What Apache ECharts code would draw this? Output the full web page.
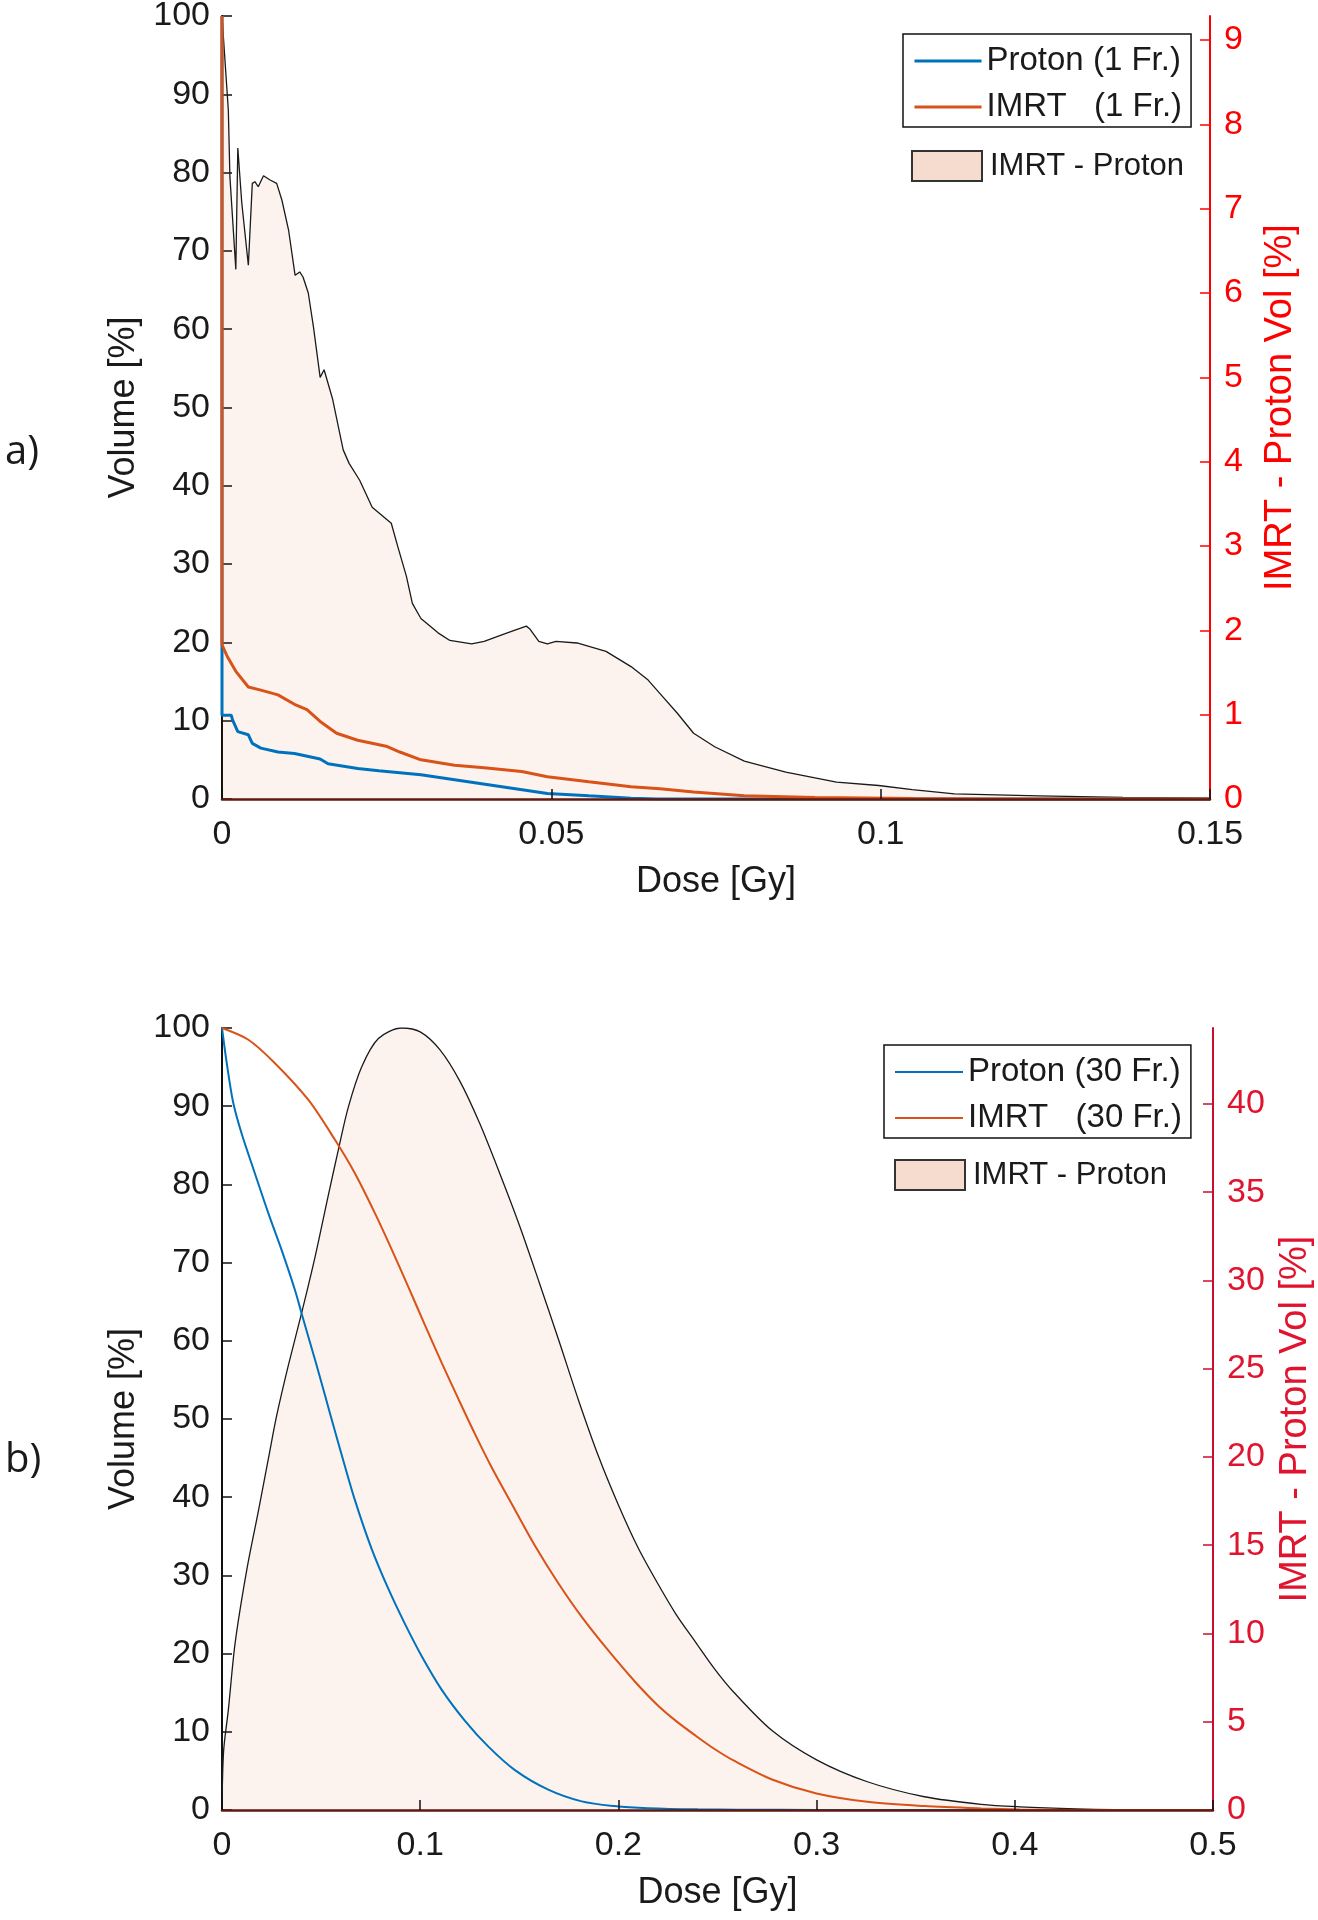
<!DOCTYPE html>
<html>
<head>
<meta charset="utf-8">
<script src="https://cdn.jsdelivr.net/npm/echarts@6/dist/echarts.min.js"></script>
<style>html,body{margin:0;padding:0;background:#fff;}#chart{width:1318px;height:1920px;}</style>
</head>
<body>
<div id="chart"></div>
<script>
// ---------- Panel a (1 fraction) ----------
const xTicksA = [0, 0.05, 0.1, 0.15];
const rightTicksA = [0, 1, 2, 3, 4, 5, 6, 7, 8, 9];
const protonA = [[0,100],[0,10.7],[0.0014,10.7],[0.0016,10.1],[0.0024,8.6],[0.0040,8.2],[0.0046,7.1],[0.0059,6.5],[0.0085,6.0],[0.0110,5.8],[0.0149,5.1],[0.0161,4.5],[0.0206,3.9],[0.0238,3.6],[0.0302,3.1],[0.0366,2.3],[0.0430,1.5],[0.0494,0.7],[0.0557,0.4],[0.0621,0.1],[0.066,0],[0.15,0]];
const imrtA = [[0,100],[0,19.7],[0.0008,18.2],[0.0021,16.3],[0.0040,14.3],[0.0059,13.9],[0.0085,13.3],[0.0110,12.1],[0.0129,11.4],[0.0149,9.9],[0.0174,8.4],[0.0206,7.5],[0.0251,6.7],[0.0270,6.0],[0.0302,5.0],[0.0353,4.3],[0.0398,4.0],[0.0455,3.5],[0.0494,2.85],[0.0557,2.2],[0.0621,1.57],[0.0665,1.3],[0.0716,0.9],[0.0793,0.4],[0.090,0.2],[0.105,0.05],[0.115,0],[0.15,0]];
// IMRT - Proton difference, right-axis units
const diffA = [[0,9.285],[0.00096,8.17],[0.0012,7.38],[0.0021,6.28],[0.0024,7.72],[0.0030,7.07],[0.0040,6.33],[0.0046,7.30],[0.0050,7.32],[0.0055,7.26],[0.0063,7.39],[0.0073,7.34],[0.0083,7.30],[0.0091,7.10],[0.0101,6.75],[0.0111,6.21],[0.0118,6.25],[0.0123,6.19],[0.0131,6.00],[0.0139,5.59],[0.0149,5.00],[0.0155,5.09],[0.0168,4.74],[0.0184,4.14],[0.0193,3.98],[0.0209,3.78],[0.0228,3.46],[0.0257,3.27],[0.0267,2.99],[0.0280,2.64],[0.0289,2.32],[0.0302,2.14],[0.0328,1.97],[0.0346,1.88],[0.0379,1.84],[0.0398,1.87],[0.0430,1.96],[0.0462,2.05],[0.0467,2.02],[0.0481,1.87],[0.0494,1.84],[0.0507,1.87],[0.0539,1.85],[0.0583,1.75],[0.0621,1.57],[0.0647,1.41],[0.0665,1.25],[0.0691,1.02],[0.0716,0.78],[0.0748,0.62],[0.0793,0.45],[0.0856,0.32],[0.0933,0.20],[0.0997,0.16],[0.1048,0.11],[0.1112,0.06],[0.124,0.037],[0.1368,0.019],[0.15,0.009]];

// ---------- Panel b (30 fractions) ----------
const xTicksB = [0, 0.1, 0.2, 0.3, 0.4, 0.5];
const rightTicksB = [0, 5, 10, 15, 20, 25, 30, 35, 40];
const protonB = [[0,100],[0.0024,95.5],[0.0057,90.4],[0.0099,86.5],[0.0166,81.4],[0.0234,76.3],[0.0301,71.6],[0.0368,66.5],[0.0405,63.2],[0.0469,57.6],[0.052,53.0],[0.0545,50.7],[0.0604,45.4],[0.0671,39.6],[0.0755,33.4],[0.0839,28.3],[0.0923,23.8],[0.1007,19.7],[0.1108,15.4],[0.1226,11.4],[0.1344,8.1],[0.1478,5.1],[0.1646,2.6],[0.1815,1.1],[0.198,0.5],[0.215,0.22],[0.24,0.08],[0.28,0.02],[0.32,0],[0.5,0]];
const imrtB = [[0,100],[0.0133,98.5],[0.0267,95.5],[0.0436,90.8],[0.057,85.7],[0.0671,81.4],[0.0772,76.3],[0.0856,71.7],[0.094,66.9],[0.1024,62.0],[0.1108,57.2],[0.1192,52.6],[0.1276,48.1],[0.1361,43.8],[0.1478,38.4],[0.1579,33.8],[0.1697,29.0],[0.1815,24.7],[0.1949,20.4],[0.2084,16.4],[0.2198,13.4],[0.229,11.4],[0.239,9.5],[0.2485,7.8],[0.2583,6.3],[0.2775,3.9],[0.3,2.1],[0.3256,1.04],[0.3544,0.5],[0.383,0.2],[0.4025,0.07],[0.43,0],[0.5,0]];
// IMRT - Proton difference, right-axis units
const diffB = [[0,0],[0.0008,3.32],[0.0032,5.67],[0.0066,9.44],[0.0125,13.6],[0.0183,16.9],[0.0234,19.9],[0.0275,22.3],[0.0335,25.2],[0.0405,28.3],[0.0469,31.3],[0.0536,34.8],[0.0587,37.4],[0.0637,39.8],[0.0705,42.1],[0.0789,43.7],[0.0907,44.3],[0.1,44.08],[0.11,43.06],[0.12,41.29],[0.13,38.9],[0.14,36.1],[0.15,33.14],[0.16,29.9],[0.17,26.58],[0.18,23.17],[0.19,20.02],[0.2,17.28],[0.21,14.84],[0.22,12.8],[0.229,11.1],[0.239,9.5],[0.2485,8.0],[0.258,6.7],[0.2775,4.5],[0.3,2.84],[0.3256,1.6],[0.3544,0.75],[0.383,0.32],[0.4025,0.18],[0.431,0.06],[0.45,0.02],[0.5,0]];

const FONT = '"Liberation Sans", Arial, Helvetica, sans-serif';
const INK = '#1a1a1a';
const BLUE = '#0072BD';
const ORANGE = '#D95319';
const FILL = 'rgba(217,83,25,0.1)';
const PATCH = '#F5DCCF';

function xAxisCfg(grid, max, interval) {
  return {
    gridIndex: grid, type: 'value', min: 0, max: max, interval: interval, z: 5,
    name: 'Dose [Gy]', nameLocation: 'middle', nameGap: 65,
    nameTextStyle: {fontSize: 36, color: INK, fontFamily: FONT},
    axisLine: {show: true, onZero: false, lineStyle: {color: '#5e1a12', width: 2.5}},
    axisTick: {show: true, inside: true, length: 10, lineStyle: {color: '#111', width: 1.5}},
    axisLabel: {fontSize: 34, color: INK, margin: 19, fontFamily: FONT},
    splitLine: {show: false}
  };
}
function leftAxisCfg(grid) {
  return {
    gridIndex: grid, type: 'value', min: 0, max: 100, interval: 10, position: 'left',
    name: 'Volume [%]', nameLocation: 'middle', nameRotate: 90, nameGap: 80,
    nameTextStyle: {fontSize: 36, color: INK, fontFamily: FONT},
    axisLine: {show: true, lineStyle: {color: '#111', width: 2}},
    axisTick: {show: true, inside: true, length: 10, lineStyle: {color: '#111', width: 1.5}},
    axisLabel: {fontSize: 34, color: INK, margin: 12, fontFamily: FONT},
    splitLine: {show: false}
  };
}
function rightAxisCfg(grid, max, ticks, lineColor, textColor, gap) {
  return {
    gridIndex: grid, type: 'value', min: 0, max: max, position: 'right',
    name: 'IMRT - Proton Vol [%]', nameLocation: 'middle', nameRotate: 90, nameGap: gap,
    nameTextStyle: {fontSize: 38, color: textColor, fontFamily: FONT},
    axisLine: {show: true, lineStyle: {color: lineColor, width: 2}},
    axisTick: {show: true, inside: true, length: 10, customValues: ticks, lineStyle: {color: lineColor, width: 1.5}},
    axisLabel: {fontSize: 34, color: textColor, margin: 14, customValues: ticks, fontFamily: FONT},
    splitLine: {show: false}
  };
}
function lineLegend(left, top, names, iw, lw) {
  return {
    orient: 'vertical', left: left, top: top, padding: [9, 9, 2, 10], itemGap: 10,
    itemWidth: iw, itemHeight: 14, borderColor: '#111', borderWidth: 1.5,
    selectedMode: false, data: names,
    itemStyle: {opacity: 0, color: 'transparent', borderWidth: 0},
    lineStyle: {width: lw},
    textStyle: {fontSize: 33, color: INK, lineHeight: 36, fontFamily: FONT}
  };
}
function patchLegend(left, top) {
  return {
    orient: 'vertical', left: left, top: top, padding: 0, itemWidth: 70, itemHeight: 30,
    selectedMode: false,
    data: [{name: 'IMRT - Proton', icon: 'rect', itemStyle: {color: PATCH, borderColor: '#333', borderWidth: 2}}],
    textStyle: {fontSize: 31, color: INK, lineHeight: 30, padding: [0, 0, 0, 3], fontFamily: FONT}
  };
}

const option = {
  backgroundColor: '#fff',
  animation: false,
  title: [
    {text: 'a)', left: 0, top: 428, textStyle: {fontSize: 40, fontWeight: 'normal', color: INK, fontFamily: '"Open Sans", "Noto Sans", sans-serif'}},
    {text: 'b)', left: 0, top: 1436, textStyle: {fontSize: 40, fontWeight: 'normal', color: INK, fontFamily: '"Open Sans", "Noto Sans", sans-serif'}}
  ],
  grid: [
    {left: 222, top: 16, width: 988, height: 783, outerBoundsMode: 'none'},
    {left: 222, top: 1028, width: 991, height: 782, outerBoundsMode: 'none'}
  ],
  xAxis: [xAxisCfg(0, 0.15, 0.05), xAxisCfg(1, 0.5, 0.1)],
  yAxis: [
    leftAxisCfg(0),
    rightAxisCfg(0, 9.285, rightTicksA, '#ff0000', '#ff0000', 52),
    leftAxisCfg(1),
    rightAxisCfg(1, 44.3, rightTicksB, '#c8102e', '#e0142e', 64)
  ],
  legend: [
    lineLegend(903, 34, ['Proton (1 Fr.)', 'IMRT   (1 Fr.)'], 67, 3),
    patchLegend(911, 150),
    lineLegend(884, 1045, ['Proton (30 Fr.)', 'IMRT   (30 Fr.)'], 68, 2),
    patchLegend(894, 1159)
  ],
  series: [
    {type: 'line', name: 'IMRT - Proton', xAxisIndex: 0, yAxisIndex: 1, data: diffA, symbol: 'none',
     lineStyle: {color: INK, width: 1.3}, itemStyle: {color: PATCH}, areaStyle: {color: FILL}, z: 1},
    {type: 'line', name: 'Proton (1 Fr.)', xAxisIndex: 0, yAxisIndex: 0, data: protonA, symbol: 'none',
     lineStyle: {color: BLUE, width: 3}, itemStyle: {color: BLUE}, z: 2},
    {type: 'line', name: 'IMRT   (1 Fr.)', xAxisIndex: 0, yAxisIndex: 0, data: imrtA, symbol: 'none',
     lineStyle: {color: ORANGE, width: 3}, itemStyle: {color: ORANGE}, z: 3},

    {type: 'line', name: 'IMRT - Proton', xAxisIndex: 1, yAxisIndex: 3, data: diffB, symbol: 'none',
     smooth: 0.3,
     lineStyle: {color: INK, width: 1.3}, itemStyle: {color: PATCH}, areaStyle: {color: FILL}, z: 1},
    {type: 'line', name: 'Proton (30 Fr.)', xAxisIndex: 1, yAxisIndex: 2, data: protonB, symbol: 'none',
     smooth: 0.3,
     lineStyle: {color: BLUE, width: 2}, itemStyle: {color: BLUE}, z: 2},
    {type: 'line', name: 'IMRT   (30 Fr.)', xAxisIndex: 1, yAxisIndex: 2, data: imrtB, symbol: 'none',
     smooth: 0.3,
     lineStyle: {color: ORANGE, width: 2}, itemStyle: {color: ORANGE}, z: 3}
  ]
};

const chart = echarts.init(document.getElementById('chart'), null, {renderer: 'canvas', width: 1318, height: 1920});
chart.setOption(option);
</script>
</body>
</html>
